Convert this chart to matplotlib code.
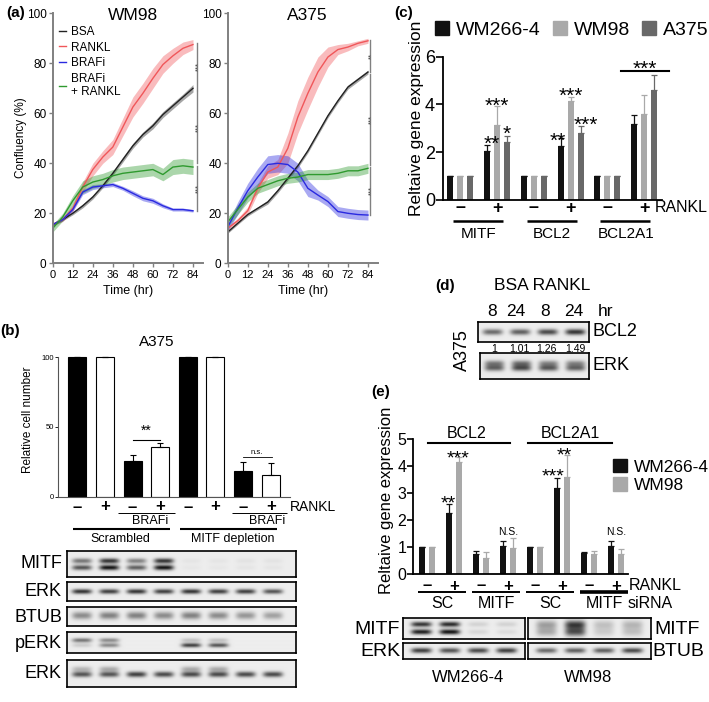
import numpy as np
import matplotlib
matplotlib.use("Agg")
import matplotlib.pyplot as plt
from matplotlib.transforms import Affine2D, blended_transform_factory
from matplotlib.patches import Patch
from matplotlib.lines import Line2D

plt.rcParams["font.family"] = ["Liberation Sans", "DejaVu Sans"]

# ---------------- data ----------------
# (a) confluency (%) read every 6 h
hours = [0, 6, 12, 18, 24, 30, 36, 42, 48, 54, 60, 66, 72, 78, 84]
wm98_bsa = [15.5, 17.5, 20, 23, 26.5, 31, 36, 41.5, 47, 51.5, 55, 59.5, 63, 66.5, 70]
wm98_bsa_sd = [0.5, 0.5, 0.6, 0.8, 0.8, 0.8, 0.8, 1, 1, 1, 1.2, 1.2, 1.2, 1.2, 1.5]
wm98_rankl = [15.5, 17.5, 22, 30.5, 37.5, 42.5, 46.5, 54.5, 62.5, 68, 74, 79.5, 83, 86, 87.5]
wm98_rankl_sd = [0.5, 0.8, 1.2, 2, 2.5, 2.5, 3, 3.5, 4, 4, 4, 3.5, 3, 2.5, 2]
wm98_brafi = [15.5, 17.5, 21.5, 28.5, 30.5, 31, 31.5, 30, 28, 26, 25, 23, 21.5, 21.5, 21]
wm98_brafi_sd = [0.5, 0.5, 0.8, 1, 1, 0.8, 0.8, 0.8, 1, 1, 1, 0.8, 0.6, 0.6, 0.5]
wm98_combo = [14, 18.5, 25, 30.5, 32.5, 33.5, 35, 36, 36.5, 37, 37.5, 35.5, 38.5, 39, 38.5]
wm98_combo_sd = [1.5, 1.5, 2, 2.5, 2.5, 2.5, 2.5, 2.5, 2.5, 2.5, 2.5, 2.5, 3, 3, 3]

a375_bsa = [12.5, 16, 19.5, 22, 24.5, 29, 34, 39, 45, 52, 59, 65, 70.5, 73.5, 76.5]
a375_bsa_sd = [0.5, 0.5, 0.6, 0.6, 0.8, 0.8, 0.8, 0.8, 0.8, 0.8, 0.8, 0.8, 0.8, 0.8, 0.8]
a375_rankl = [14, 17, 21, 30, 36.5, 38.5, 46, 58.5, 68, 76.5, 82.5, 85.5, 86.5, 88, 89]
a375_rankl_sd = [0.8, 1, 1.5, 2, 2.5, 3, 6, 6.5, 6.5, 6, 4, 2, 1.5, 1, 1]
a375_brafi = [14.5, 22, 29, 34.5, 39.5, 40, 39.5, 36.5, 30, 27.3, 24.7, 20.7, 20, 19.5, 19.3]
a375_brafi_sd = [1.5, 2.5, 3, 3.5, 3.5, 3.5, 3.5, 3.5, 3.3, 2, 2, 2, 2, 2, 2]
a375_combo = [16.5, 21.5, 26.5, 30, 31.5, 33, 34, 34.5, 35.5, 35.5, 35.5, 36, 37, 37, 38]
a375_combo_sd = [2, 2, 2, 2, 2, 2, 2, 2, 2, 2, 2, 2, 2, 2, 2]

conf_labels = ["BSA", "RANKL", "BRAFi", "BRAFi\n+ RANKL"]
conf_colors = ["#222222", "#f0575a", "#2a2ae0", "#2f9a2f"]
wm98_sig = [(88, 69.5, "***"), (69, 40, "***"), (39, 21, "***")]
a375_sig = [(89.3, 76.7, "**"), (75.7, 39.5, "***"), (38.7, 19.5, "***")]

# (b) relative cell number, A375
b_vals = [100, 100, 25.7, 35.7, 100, 100, 18.6, 15.5]
b_err = [0, 0, 4, 2.5, 0, 0, 6.5, 9]
b_rankl = ["–", "+", "–", "+", "–", "+", "–", "+"]

# (c) relative gene expression (groups: MITF-, MITF+, BCL2-, BCL2+, BCL2A1-, BCL2A1+)
c_genes = ["MITF", "BCL2", "BCL2A1"]
c_wm266 = [1, 2.05, 1, 2.25, 1, 3.2]
c_wm266_err = [0, 0.25, 0, 0.35, 0, 0.35]
c_wm98 = [1, 3.15, 1, 4.15, 1, 3.6]
c_wm98_err = [0, 0.8, 0, 0.15, 0, 0.8]
c_a375 = [1, 2.42, 1, 2.8, 1, 4.6]
c_a375_err = [0, 0.25, 0, 0.3, 0, 0.65]
c_stars = [(3.1, 2.58, "**"), (3.6, 4.2, "***"), (4.6, 3.0, "*"),
           (9.7, 2.72, "**"), (11.0, 4.6, "***"), (12.5, 3.37, "***"),
           (18.4, 5.72, "***")]

# (d) BCL2 blot quantification
d_hours = ["8", "24", "8", "24"]
d_quant = ["1", "1.01", "1.26", "1.49"]

# (e) siRNA experiment (pairs: BCL2 SC-, SC+, MITF-, MITF+, BCL2A1 SC-, SC+, MITF-, MITF+)
e_wm266 = [1, 2.25, 0.75, 1.03, 1, 3.2, 0.78, 1.05]
e_wm266_err = [0, 0.35, 0.12, 0.2, 0, 0.35, 0.05, 0.18]
e_wm98 = [1, 4.15, 0.6, 0.95, 1, 3.6, 0.75, 0.75]
e_wm98_err = [0, 0.2, 0.22, 0.37, 0, 0.82, 0.1, 0.18]
e_stars = [(2.1, 2.81, "**"), (3.1, 4.5, "***"), (12.6, 3.8, "***"), (13.7, 4.6, "**")]

# blot band intensities (0 = none, 1 = saturated)
b_mitf_hi = [0.55, 0.85, 0.5, 0.85, 0.04, 0.04, 0.05, 0.05]
b_mitf_lo = [0.7, 1.0, 0.65, 1.0, 0.03, 0.03, 0.04, 0.04]
b_erk = [0.85, 0.8, 0.85, 0.8, 0.85, 0.8, 0.8, 0.7]
b_btub = [0.45, 0.5, 0.5, 0.45, 0.5, 0.45, 0.4, 0.35]
b_perk_hi = [0.55, 0.45, 0, 0, 0.2, 0.2, 0, 0]
b_perk_lo = [0.15, 0.45, 0, 0, 0.8, 0.7, 0, 0]
b_erk2_hi = [0.25, 0.3, 0, 0, 0.3, 0.3, 0, 0]
b_erk2_lo = [0.7, 0.7, 0.8, 0.75, 0.75, 0.75, 0.75, 0.75]
d_bcl2 = [0.6, 0.65, 0.75, 0.85]
d_erk_hi = [0.5, 0.55, 0.45, 0.45]
d_erk_lo = [0.6, 0.7, 0.65, 0.6]
e266_mitf_hi = [0.85, 0.9, 0.12, 0.12]
e266_mitf_lo = [0.95, 1.0, 0.1, 0.08]
e266_erk = [0.8, 0.7, 0.75, 0.8]
e98_mitf_hi = [0.35, 0.8, 0.2, 0.25]
e98_mitf_lo = [0.3, 0.7, 0.15, 0.2]
e98_btub = [0.6, 0.65, 0.65, 0.75]

# ---------------- helpers ----------------
W, H = 709, 702
fig = plt.figure(figsize=(W / 100, H / 100), dpi=100)
PX = Affine2D().scale(1 / W, -1 / H).translate(0, 1) + fig.transFigure


def axes_px(x0, y0, x1, y1):
    return fig.add_axes([x0 / W, 1 - y1 / H, (x1 - x0) / W, (y1 - y0) / H])


def ptext(x, y, s, **kw):
    kw.setdefault("ha", "center")
    kw.setdefault("va", "center")
    return fig.text(x, y, s, transform=PX, **kw)


def dtext(ax, x, ypx, s, **kw):
    kw.setdefault("ha", "center")
    kw.setdefault("va", "center")
    tr = blended_transform_factory(ax.transData, PX)
    return ax.text(x, ypx, s, transform=tr, clip_on=False, **kw)


def dline(ax, xa, xb, ypx, lw=1.2, color="k"):
    tr = blended_transform_factory(ax.transData, PX)
    ax.plot([xa, xb], [ypx, ypx], transform=tr, color=color, lw=lw,
            clip_on=False, solid_capstyle="butt")


def star(ax, x, y, s, fs):
    ax.annotate(s, (x, y), xytext=(0, -0.3 * fs), textcoords="offset points",
                ha="center", va="center", fontsize=fs, annotation_clip=False)


def blot(x0, y0, x1, y1, rows, first, last, bg=0.93):
    ax = axes_px(x0, y0, x1, y1)
    w = int((x1 - x0) * 3)
    h = int((y1 - y0) * 3)
    xx = np.linspace(0, 1, w)[None, :]
    yy = np.linspace(0, 1, h)[:, None]
    n = len(rows[0][2])
    centers = np.linspace(first, last, n)
    half = (last - first) / (n - 1) * 0.36
    dens = np.zeros((h, w))
    for yc, sig, vals in rows:
        for c, v in zip(centers, vals):
            dens += v * np.exp(-((xx - c) / half) ** 4) * np.exp(-((yy - yc) / sig) ** 2)
    img = bg - (bg - 0.08) * np.clip(dens, 0, 1)
    ax.imshow(img, cmap="gray", vmin=0, vmax=1, aspect="auto",
              extent=(0, 1, 1, 0), interpolation="bilinear")
    ax.set_xticks([])
    ax.set_yticks([])
    for s in ax.spines.values():
        s.set_linewidth(1.2)
    return ax


# ---------------- (a) ----------------
def conf_panel(x0, x1, series, sig, xs):
    ax = axes_px(x0, 13.3, x1, 263.3)
    for (m, sd), c in zip(series, conf_colors):
        m = np.array(m)
        sd = np.array(sd)
        ax.fill_between(hours, m - sd, m + sd, color=c, alpha=0.4, lw=0)
        ax.plot(hours, m, color=c, lw=1)
    ax.set_xlim(0, 90)
    ax.set_ylim(0, 100)
    ax.set_xticks(range(0, 85, 12))
    ax.set_yticks(range(0, 101, 20))
    for s in ["top", "right"]:
        ax.spines[s].set_visible(False)
    for s in ["left", "bottom"]:
        ax.spines[s].set_color("#808080")
        ax.spines[s].set_linewidth(1.4)
    ax.tick_params(colors="#808080", labelcolor="k", length=3, width=1, pad=1.5)
    ax.tick_params(axis="y", labelsize=8.5)
    ax.tick_params(axis="x", labelsize=8)
    ax.set_xlabel("Time (hr)", fontsize=9, labelpad=4)
    for top, bot, s in sig:
        ax.plot([xs, xs], [top, bot], color="#808080", lw=1, clip_on=False)
        ax.text(xs + 1.3, (top + bot) / 2, s, rotation=90, fontsize=5.5,
                ha="center", va="center", color="#444444", clip_on=False)
    return ax


ax_a1 = conf_panel(52.7, 203,
                   [(wm98_bsa, wm98_bsa_sd), (wm98_rankl, wm98_rankl_sd),
                    (wm98_brafi, wm98_brafi_sd), (wm98_combo, wm98_combo_sd)], wm98_sig, 86.3)
ax_a2 = conf_panel(227.7, 378,
                   [(a375_bsa, a375_bsa_sd), (a375_rankl, a375_rankl_sd),
                    (a375_brafi, a375_brafi_sd), (a375_combo, a375_combo_sd)], a375_sig, 85)
ptext(133, 16, "WM98", fontsize=12.5)
ptext(307.5, 16, "A375", fontsize=12.5)
ptext(21, 138, "Confluency (%)", rotation=90, fontsize=8.5)
handles = [Line2D([], [], color=c, lw=1) for c in conf_colors]
ax_a1.legend(handles, conf_labels, loc="upper left", bbox_to_anchor=(59, 26),
             bbox_transform=PX, frameon=False, fontsize=8.5, handlelength=0.6,
             handletextpad=0.4, labelspacing=0.3, borderpad=0, borderaxespad=0)
ptext(15.5, 13, "(a)", fontsize=11, fontweight="bold")

# ---------------- (b) ----------------
axb = axes_px(58, 355.9, 290, 496.7)
xb = np.arange(len(b_vals))
axb.bar(xb, b_vals, width=0.65, color=["k" if i % 2 == 0 else "w" for i in xb],
        edgecolor="k", lw=0.8)
axb.errorbar(xb, b_vals, yerr=[np.zeros(len(b_err)), b_err], fmt="none",
             ecolor="k", elinewidth=0.8, capsize=2.5, capthick=0.8)
axb.set_xlim(-0.7, 7.7)
axb.set_ylim(0, 101)
axb.spines["left"].set_bounds(0, 100)
for s in ["top", "right"]:
    axb.spines[s].set_visible(False)
for s in ["left", "bottom"]:
    axb.spines[s].set_linewidth(0.8)
    axb.spines[s].set_color("#555555")
axb.set_xticks([])
axb.set_yticks([0, 50, 100])
axb.tick_params(labelsize=5.5, length=2, width=0.6, pad=1)
axb.plot([2, 3], [41, 41], color="k", lw=0.8)
axb.text(2.5, 42, "**", ha="center", va="bottom", fontsize=10)
axb.plot([6, 7.05], [28.4, 28.4], color="k", lw=0.6)
axb.text(6.5, 29.5, "n.s.", ha="center", va="bottom", fontsize=5.5)
for x, s in zip(xb, b_rankl):
    dtext(axb, x, 507, s, fontsize=12, fontweight="bold")
ptext(290, 507, "RANKL", ha="left", fontsize=10)
dline(axb, 1.48, 3.54, 513, lw=0.7)
dline(axb, 5.6, 7.6, 513, lw=0.7)
dtext(axb, 2.64, 521, "BRAFi", fontsize=9)
dtext(axb, 6.87, 521, "BRAFi", fontsize=9)
dline(axb, -0.16, 3.36, 529, lw=1.5)
dline(axb, 3.72, 7.23, 529, lw=1.5)
dtext(axb, 1.57, 539, "Scrambled", fontsize=9)
dtext(axb, 5.62, 539, "MITF depletion", fontsize=9)
ptext(157, 342, "A375", fontsize=11)
ptext(28, 420, "Relative cell number", rotation=90, fontsize=8.5)
ptext(10, 331, "(b)", fontsize=11, fontweight="bold")

blot(67, 551, 296, 577, [(0.38, 0.1, b_mitf_hi), (0.64, 0.1, b_mitf_lo)], 0.065, 0.9)
blot(67, 582, 296, 601, [(0.5, 0.13, b_erk)], 0.065, 0.9)
blot(67, 607, 296, 626, [(0.45, 0.2, b_btub)], 0.065, 0.9)
blot(67, 632, 296, 653, [(0.42, 0.1, b_perk_hi), (0.65, 0.1, b_perk_lo)], 0.065, 0.9)
blot(67, 660, 296, 687, [(0.36, 0.1, b_erk2_hi), (0.55, 0.1, b_erk2_lo)], 0.065, 0.9)
for y, s in zip([563, 591, 617, 643, 673], ["MITF", "ERK", "BTUB", "pERK", "ERK"]):
    ptext(62, y, s, ha="right", fontsize=13)

# ---------------- (c) ----------------
col_266, col_98, col_375 = "#111111", "#a9a9a9", "#686868"
axc = axes_px(443.3, 56.7, 661.7, 200)
gc = np.arange(6) * 3.67
for off, vals, errs, col in [(-1, c_wm266, c_wm266_err, col_266),
                             (0, c_wm98, c_wm98_err, col_98),
                             (1, c_a375, c_a375_err, col_375)]:
    axc.bar(gc + off, vals, width=0.6, color=col)
    axc.errorbar(gc + off, vals, yerr=[np.zeros(6), errs], fmt="none", ecolor=col,
                 elinewidth=0.9, capsize=2, capthick=0.9)
axc.set_xlim(-1.7, 20.1)
axc.set_ylim(0, 6)
for s in ["top", "right"]:
    axc.spines[s].set_visible(False)
for s in ["left", "bottom"]:
    axc.spines[s].set_linewidth(1.3)
axc.set_xticks([])
axc.set_yticks([0, 2, 4, 6])
axc.tick_params(labelsize=13, length=5, width=1.2, pad=1)
for x, y, s in c_stars:
    star(axc, x, y, s, 15)
axc.plot([16, 20.8], [5.41, 5.41], color="k", lw=1.5, clip_on=False)
for i, g in enumerate(c_genes):
    dtext(axc, gc[2 * i], 208, "–", fontsize=13, fontweight="bold")
    dtext(axc, gc[2 * i + 1], 208, "+", fontsize=13, fontweight="bold")
    dline(axc, gc[2 * i] - 0.7, gc[2 * i + 1] + 0.6, 221, lw=1.8)
    dtext(axc, (gc[2 * i] + gc[2 * i + 1]) / 2, 234, g, fontsize=11)
ptext(655, 208, "RANKL", ha="left", fontsize=11.5)
ptext(416.7, 118, "Reltaive gene expression", rotation=90, fontsize=12.5)
fig.legend([Patch(color=col_266), Patch(color=col_98), Patch(color=col_375)],
           ["WM266-4", "WM98", "A375"], loc="center left", bbox_to_anchor=(425, 30),
           bbox_transform=PX, ncol=3, frameon=False, fontsize=14, handlelength=0.75,
           handleheight=0.75, handletextpad=0.35, columnspacing=0.6, borderpad=0)
ptext(403.5, 12.5, "(c)", fontsize=11, fontweight="bold")

# ---------------- (d) ----------------
ptext(445, 286, "(d)", fontsize=11, fontweight="bold")
ptext(542, 285, "BSA RANKL", fontsize=12.5)
for x, s in zip([492, 516, 545, 574], d_hours):
    ptext(x, 312, s, fontsize=12.5)
ptext(598, 312, "hr", ha="left", fontsize=12.5)
blot(478, 322, 589, 342, [(0.5, 0.15, d_bcl2)], 0.13, 0.87)
for x, s in zip([494, 519, 546, 575], d_quant):
    ptext(x, 349, s, fontsize=7.5)
blot(480, 353, 589, 379, [(0.4, 0.12, d_erk_hi), (0.58, 0.12, d_erk_lo)], 0.13, 0.87)
ptext(592, 332, "BCL2", ha="left", fontsize=13)
ptext(592, 366, "ERK", ha="left", fontsize=13)
ptext(462, 350, "A375", rotation=90, fontsize=13)

# ---------------- (e) ----------------
axe = axes_px(413.3, 439.3, 628.3, 574)
ge = np.arange(8) * 2.7
for off, vals, errs, col in [(-0.5, e_wm266, e_wm266_err, col_266),
                             (0.5, e_wm98, e_wm98_err, col_98)]:
    axe.bar(ge + off, vals, width=0.57, color=col)
    axe.errorbar(ge + off, vals, yerr=[np.zeros(8), errs], fmt="none", ecolor=col,
                 elinewidth=0.9, capsize=2, capthick=0.9)
axe.set_xlim(-1.37, 20.1)
axe.set_ylim(0, 5)
for s in ["top", "right"]:
    axe.spines[s].set_visible(False)
for s in ["left", "bottom"]:
    axe.spines[s].set_linewidth(1.3)
axe.set_xticks([])
axe.set_yticks(range(6))
axe.tick_params(labelsize=11.5, length=4, width=1.2, pad=1)
for x, y, s in e_stars:
    star(axe, x, y, s, 14)
for x in [ge[3], ge[7]]:
    axe.text(x, 1.57, "N.S.", ha="center", va="center", fontsize=7.5)
axe.plot([0.1, 8.3], [4.87, 4.87], color="k", lw=1.5, clip_on=False)
axe.plot([10.1, 18.5], [4.87, 4.87], color="k", lw=1.5, clip_on=False)
dtext(axe, 4.0, 434, "BCL2", fontsize=11.5)
dtext(axe, 14.3, 434, "BCL2A1", fontsize=11.5)
for i in range(4):
    a, b = ge[2 * i], ge[2 * i + 1]
    dtext(axe, a, 586, "–", fontsize=12, fontweight="bold")
    dtext(axe, b, 586, "+", fontsize=12, fontweight="bold")
    dline(axe, a - 0.9, b + 1.2, 592, lw=2.6 if i == 3 else 1.4)
    dtext(axe, (a + b) / 2 + 0.2, 604, ["SC", "MITF", "SC", "MITF"][i], fontsize=11.5)
ptext(629, 586, "RANKL", ha="left", fontsize=11.5)
ptext(628, 604, "siRNA", ha="left", fontsize=11.5)
ptext(387, 500, "Reltaive gene expression", rotation=90, fontsize=12)
fig.legend([Patch(color=col_266), Patch(color=col_98)], ["WM266-4", "WM98"],
           loc="center left", bbox_to_anchor=(604, 476), bbox_transform=PX,
           frameon=False, fontsize=12.5, handlelength=0.8, handleheight=0.8,
           handletextpad=0.4, labelspacing=0.15, borderpad=0)
ptext(381, 392, "(e)", fontsize=11, fontweight="bold")

blot(403.3, 618.3, 525, 639.3, [(0.33, 0.12, e266_mitf_hi), (0.68, 0.12, e266_mitf_lo)], 0.15, 0.85)
blot(403.3, 642.7, 525, 659.3, [(0.5, 0.16, e266_erk)], 0.15, 0.85)
blot(528.3, 618.3, 650.7, 639.3, [(0.35, 0.2, e98_mitf_hi), (0.68, 0.2, e98_mitf_lo)], 0.15, 0.85)
blot(528.3, 642.7, 650.7, 659.3, [(0.5, 0.16, e98_btub)], 0.15, 0.85)
ptext(400, 629, "MITF", ha="right", fontsize=14)
ptext(400, 651, "ERK", ha="right", fontsize=14)
ptext(654, 630, "MITF", ha="left", fontsize=14)
ptext(652, 651, "BTUB", ha="left", fontsize=14)
ptext(468, 677, "WM266-4", fontsize=12)
ptext(588, 677, "WM98", fontsize=12)

fig.savefig("out.png", dpi=100)
